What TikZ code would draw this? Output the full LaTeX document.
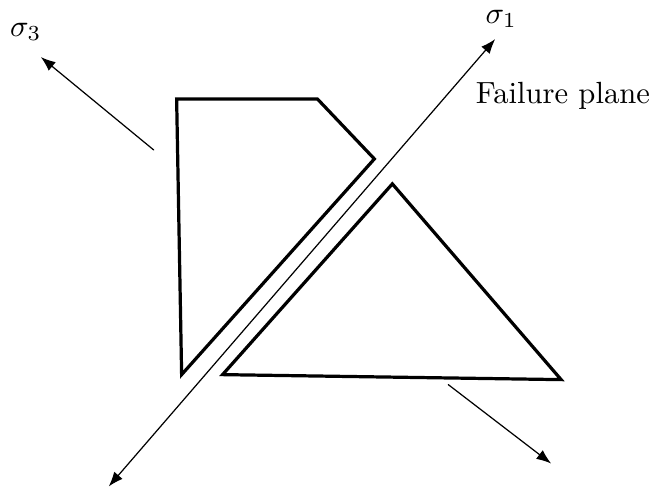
\documentclass[tikz,border=0pt]{standalone}
\usetikzlibrary{arrows.meta}
\begin{document}
\begin{tikzpicture}[x=0.326pt,y=-0.326pt,>=Latex,line cap=round,line join=round]
\path[fill=white] (0,0) rectangle (655,489);
\tikzset{block/.style={draw=black,line width=1.05pt,line join=miter},force/.style={draw=black,thin}}
% failure plane with the major principal stress
\coordinate (planeLow) at (108,485); \coordinate (planeHigh) at (495,37);
\draw[force,<->] (planeLow) -- (planeHigh);
% the two halves of the sample
\draw[block] (176,97) -- (317,97) -- (374,157) -- (181,373) -- cycle;
\draw[block] (392,182) -- (561,378) -- (222,373) -- cycle;
% minor principal stress
\coordinate (upTail) at (153,148); \coordinate (upTip) at (40,55);
\coordinate (downTail) at (448,383); \coordinate (downTip) at (551,462);
\draw[force,->] (upTail) -- (upTip);
\draw[force,->] (downTail) -- (downTip);
\node (sigmaThree) at (25,30) {$\sigma_3$};
\node (sigmaOne) at (501,17) {$\sigma_1$};
\node[anchor=base west,inner sep=0pt] (failLabel) at (475,102) {Failure plane};
\end{tikzpicture}
\end{document}
